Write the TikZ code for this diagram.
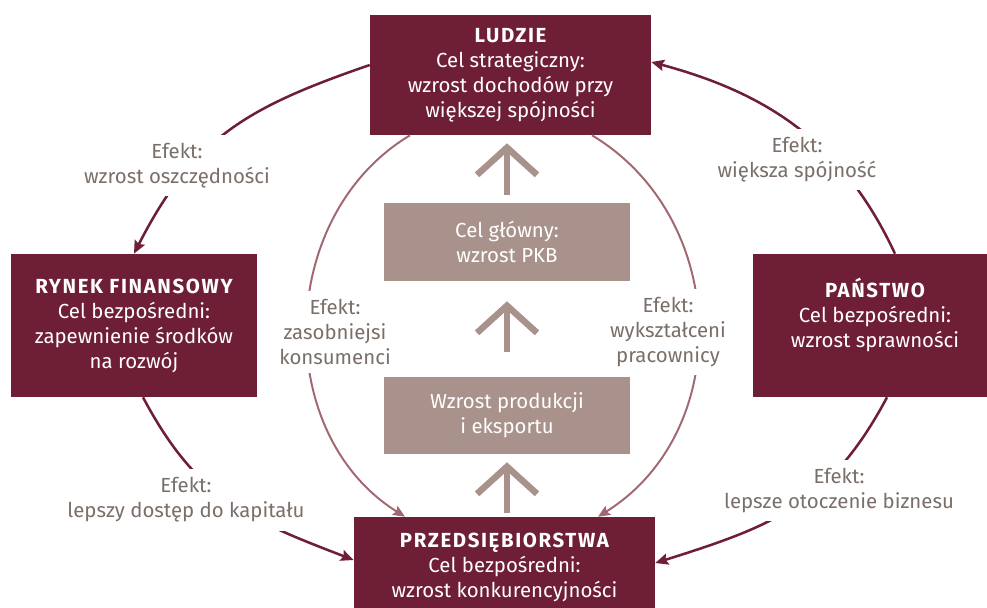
\documentclass[tikz,border=0pt]{standalone}
\usepackage{fontspec}
\setmainfont{Fira Sans}
\usetikzlibrary{arrows.meta}
\definecolor{wine}{HTML}{6E1F36}
\definecolor{taupe}{HTML}{A8928B}
\definecolor{rosy}{HTML}{A26872}
\definecolor{effgray}{HTML}{7A6F69}
\newcommand{\diagfont}{\fontsize{14.5}{17.8}\selectfont}
\newcommand{\boxhead}[1]{{\bfseries\addfontfeature{LetterSpace=8}#1}}

\begin{document}
\begin{tikzpicture}[
  goal/.style={fill=wine,text=white,align=center,inner sep=0pt,font=\diagfont},
  stage/.style={fill=taupe,text=white,align=center,inner sep=0pt,font=\diagfont,
    minimum width=6.15cm},
  effect/.style={fill=white,text=effgray,align=center,inner xsep=3pt,inner ysep=6pt,font=\diagfont},
  outer/.style={draw=wine,line width=1.8pt,-{Stealth[length=0.32cm,width=0.28cm,inset=0.05cm]}},
  inner/.style={draw=rosy,line width=1.4pt,-{Stealth[length=0.3cm,width=0.26cm,inset=0.05cm]}},
  bigarrow/.style={draw=taupe,line width=4.6pt,-{Straight Barb[length=0.68cm,width=1.5cm]}}
]
\useasboundingbox (0,0) rectangle (24.675,-15.175);

% cele
\node[goal,minimum width=7.025cm,minimum height=3cm] (ludzie) at (12.7625,-1.875)
  {\boxhead{LUDZIE}\\Cel strategiczny:\\wzrost dochodów przy\\większej spójności};
\node[goal,minimum width=6.15cm,minimum height=3.575cm] (rynek) at (3.35,-8.1375)
  {\boxhead{RYNEK FINANSOWY}\\Cel bezpośredni:\\zapewnienie środków\\na rozwój};
\node[goal,minimum width=6.1cm,minimum height=3.575cm] (panstwo) at (21.875,-8.1375)
  {\boxhead{PAŃSTWO}\\Cel bezpośredni:\\wzrost sprawności\\\mbox{}};
\node[goal,minimum width=7.525cm,minimum height=2.5cm] (przeds) at (12.6125,-14.175)
  {\boxhead{PRZEDSIĘBIORSTWA}\\Cel bezpośredni:\\wzrost konkurencyjności};

\node[stage,minimum height=1.95cm] (glowny) at (12.675,-6.05) {Cel główny:\\wzrost PKB};
\node[stage,minimum height=1.925cm] (produkcja) at (12.675,-10.3875) {Wzrost produkcji\\i eksportu};

% duze strzalki
\draw[bigarrow,shorten <=.2cm,shorten >=.2cm] (glowny.north) -- (glowny.north |- ludzie.south);
\draw[bigarrow,shorten <=.625cm,shorten >=.5cm] (produkcja.north) -- (glowny.south);
\draw[bigarrow,shorten <=.1cm,shorten >=.2cm] (produkcja.south |- przeds.north) -- (produkcja.south);

% obieg zewnetrzny
\draw[outer] ([yshift=.25cm]ludzie.west) to[out=199,in=63,looseness=1.1] (rynek.north);
\draw[outer] ([xshift=.225cm]rynek.south) to[out=-62,in=159,looseness=1.1] ([yshift=.175cm]przeds.west);
\draw[outer] ([xshift=.5cm]panstwo.north) to[out=115,in=-15] ([yshift=.325cm]ludzie.east);
\draw[outer] ([xshift=.3cm]panstwo.south) to[out=242,in=17.5,looseness=1.1] ([yshift=.1cm]przeds.east);

% obieg wewnetrzny
\draw[inner] ([xshift=-2.5125cm]ludzie.south) to[out=211,in=148,looseness=1.05] ([xshift=-2.4875cm]przeds.north);
\draw[inner] ([xshift=2.0375cm]ludzie.south) to[out=-31,in=32,looseness=1.08] ([xshift=2.3375cm]przeds.north);

% efekty
\node[effect] (oszczednosci) at (4.425,-4.1375) {Efekt:\\wzrost oszczędności};
\node[effect] (spojnosc) at (19.925,-3.9875) {Efekt:\\większa spójność};
\node[effect] (kapital) at (4.65,-12.5) {Efekt:\\lepszy dostęp do kapitału};
\node[effect] (otoczenie) at (20.975,-12.2625) {Efekt:\\lepsze otoczenie biznesu};
\node[effect] (konsumenci) at (8.375,-8.3) {Efekt:\\zasobniejsi\\konsumenci};
\node[effect] (pracownicy) at (16.7,-8.3) {Efekt:\\wykształceni\\pracownicy};
\end{tikzpicture}
\end{document}
